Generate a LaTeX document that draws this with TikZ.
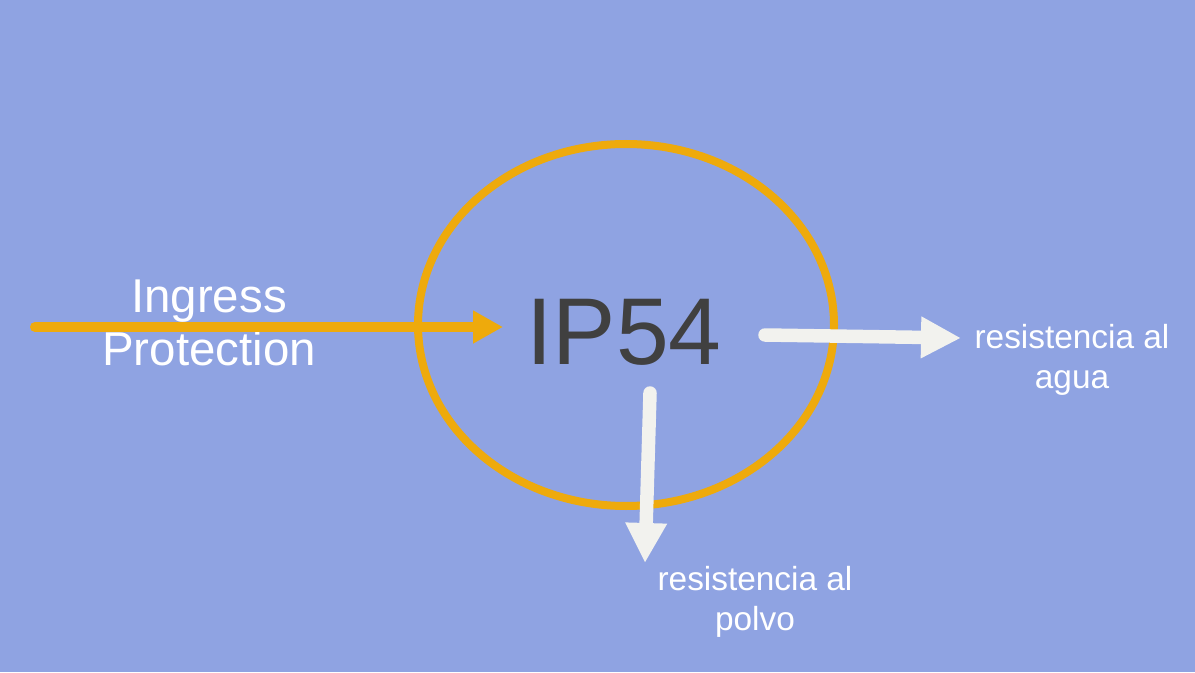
\documentclass[tikz,border=0pt]{standalone}
\usepackage{fontspec}
\setmainfont{Liberation Sans}
\usepackage{xcolor}
\usetikzlibrary{arrows.meta,shapes.geometric}

\definecolor{slide}{HTML}{8FA3E2}
\definecolor{ringorange}{HTML}{EEAA0C}
\definecolor{paleline}{HTML}{F2F2EE}
\definecolor{darktext}{HTML}{404040}

\begin{document}
\begin{tikzpicture}[x=1cm, y=1cm,
		every node/.style={inner sep=0pt, align=center},
		ring/.style={ellipse, draw=ringorange, line width=1.6mm, minimum width=8.32cm, minimum height=7.24cm},
		bigcode/.style={text=darktext, font=\fontsize{54}{58}\selectfont},
		whitelabel/.style={text=white, font=\fontsize{19}{22.8}\selectfont},
		ingress/.style={line width=2mm, draw=ringorange, line cap=round, -{Triangle[length=6mm, width=6.2mm]}},
		outarrow/.style={line width=2.7mm, draw=paleline, line cap=round, -{Triangle[length=8mm, width=7.8mm]}},
	]
	\fill[slide] (0,0) rectangle (23.9,13.44);
	\useasboundingbox (0,0) rectangle (23.9,13.44);

	\node[ring] (ring) at (12.52,6.94) {};
	\node[bigcode] (ip) at (12.48,6.8) {IP54};

	\node[text=white, font=\fontsize{27}{30.2}\selectfont] (name) at (4.18,6.98) {Ingress\\Protection};
	\coordinate (start) at (0.7,6.9);
	\coordinate (tip) at (10.06,6.9);
	\draw[ingress] (start) -- (tip);

	% water
	\coordinate (wfrom) at (15.3,6.74);
	\coordinate (wto) at (19.22,6.68);
	\draw[outarrow] (wfrom) -- (wto);
	\node[whitelabel] (agua) at (21.44,6.24) {resistencia al\\agua};

	% dust
	\coordinate (dfrom) at (13.0,5.58);
	\coordinate (dto) at (12.9,2.18);
	\draw[outarrow] (dfrom) -- (dto);
	\node[whitelabel] (polvo) at (15.1,1.4) {resistencia al\\polvo};
\end{tikzpicture}
\end{document}
